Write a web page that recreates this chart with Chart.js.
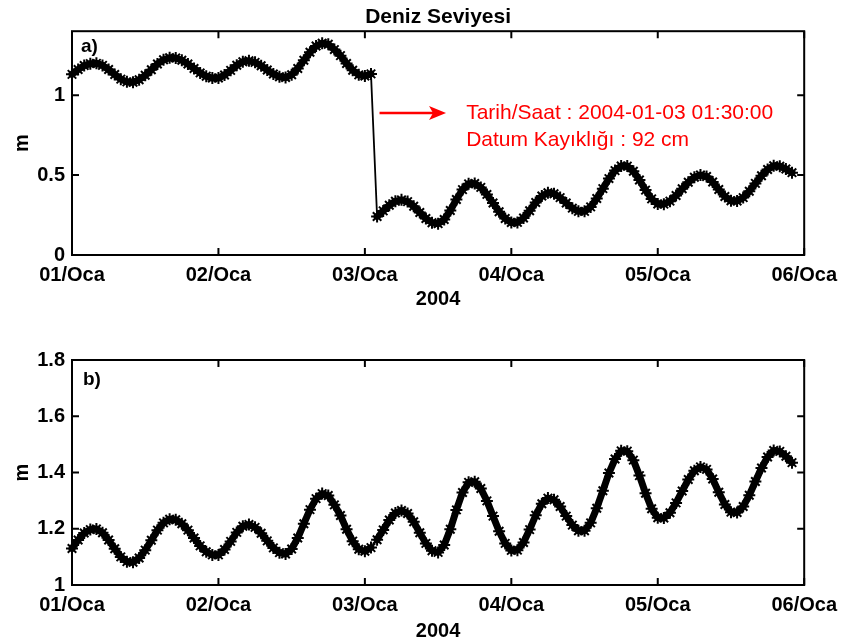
<!DOCTYPE html>
<html>
<head>
<meta charset="utf-8">
<script src="https://cdn.jsdelivr.net/npm/chart.js@4.4.1/dist/chart.umd.min.js"></script>
<style>
  body { margin: 0; background: #fff; }
  #wrap { position: relative; width: 845px; height: 643px; }
  canvas { position: absolute; left: 0; }
</style>
</head>
<body>
<div id="wrap">
  <canvas id="rawChart" width="845" height="320" style="top:0"></canvas>
  <canvas id="fixedChart" width="845" height="323" style="top:320px"></canvas>
</div>
<script>
// x axis: hours since 2004-01-01 00:00
const dayTicks = [0, 24, 48, 72, 96, 120];
const dayLabels = ["01/Oca", "02/Oca", "03/Oca", "04/Oca", "05/Oca", "06/Oca"];
const rawTicks = [0, 0.5, 1];
const fixedTicks = [1, 1.2, 1.4, 1.6, 1.8];

// hourly sea level (m), datum corrected (panel b)
const seaLevel = [
  1.130, 1.160, 1.185, 1.197, 1.199, 1.186, 1.160, 1.129, 1.100, 1.083,
  1.081, 1.096, 1.124, 1.159, 1.195, 1.221, 1.234, 1.232, 1.218, 1.195,
  1.167, 1.139, 1.118, 1.107, 1.107, 1.126, 1.155, 1.187, 1.209, 1.215,
  1.205, 1.184, 1.157, 1.132, 1.115, 1.110, 1.128, 1.167, 1.218, 1.268,
  1.307, 1.325, 1.318, 1.285, 1.247, 1.198, 1.156, 1.127, 1.120, 1.133,
  1.161, 1.196, 1.231, 1.256, 1.265, 1.254, 1.225, 1.186, 1.148, 1.122,
  1.116, 1.142, 1.198, 1.267, 1.329, 1.365, 1.367, 1.343, 1.299, 1.245,
  1.191, 1.148, 1.123, 1.124, 1.151, 1.197, 1.248, 1.289, 1.309, 1.303,
  1.279, 1.245, 1.213, 1.193, 1.193, 1.221, 1.273, 1.335, 1.398, 1.448,
  1.477, 1.476, 1.444, 1.389, 1.326, 1.271, 1.239, 1.238, 1.257, 1.292,
  1.334, 1.375, 1.406, 1.420, 1.411, 1.377, 1.330, 1.286, 1.259, 1.258,
  1.279, 1.319, 1.368, 1.416, 1.455, 1.478, 1.475, 1.458, 1.435
];
const stepHours = 1;
const shiftIndex = 50;   // first sample after the datum jump (03/Oca 01:30)
const datumShift = 0.92; // 92 cm

const fixedPoints = seaLevel.map((v, i) => ({ x: i * stepHours, y: v }));
// raw record (panel a): level drops by the datum shift after the jump
const rawPoints = seaLevel.map((v, i) => ({ x: i * stepHours, y: i >= shiftIndex ? v - datumShift : v }));

const FONT = "'Liberation Sans', Arial, sans-serif";
Chart.defaults.font.family = FONT;
Chart.defaults.font.size = 20;
Chart.defaults.font.weight = "bold";
Chart.defaults.color = "#000";

// box + inward ticks + panel letter
const framePlugin = {
  id: "frame",
  afterDraw(chart, args, opts) {
    const { ctx, chartArea: a, scales: { x, y } } = chart;
    ctx.save();
    ctx.strokeStyle = "#000";
    ctx.lineWidth = 2;
    ctx.strokeRect(a.left, a.top, a.right - a.left, a.bottom - a.top);
    ctx.beginPath();
    x.ticks.forEach((t) => {
      const px = x.getPixelForValue(t.value);
      ctx.moveTo(px, a.bottom); ctx.lineTo(px, a.bottom - 7);
      ctx.moveTo(px, a.top); ctx.lineTo(px, a.top + 7);
    });
    y.ticks.forEach((t) => {
      const py = y.getPixelForValue(t.value);
      ctx.moveTo(a.left, py); ctx.lineTo(a.left + 7, py);
      ctx.moveTo(a.right, py); ctx.lineTo(a.right - 7, py);
    });
    ctx.stroke();
    ctx.fillStyle = "#000";
    ctx.font = "bold 19px " + FONT;
    ctx.textBaseline = "alphabetic";
    ctx.fillText(opts.panel, a.left + opts.dx, a.top + opts.dy);
    ctx.restore();
  },
};

// red arrow + note about the datum shift (panel a)
const arrowFrom = { x: 50.4, y: 0.888 };
const arrowTo = { x: 61.3, y: 0.888 };
const noteAt = { x: 64.6, y: 0.888 };
const noteLines = ["Tarih/Saat : 2004-01-03 01:30:00", "Datum Kayıklığı : 92 cm"];

const notePlugin = {
  id: "note",
  afterDraw(chart) {
    const { ctx, scales: { x, y } } = chart;
    const x0 = x.getPixelForValue(arrowFrom.x);
    const x1 = x.getPixelForValue(arrowTo.x);
    const yy = y.getPixelForValue(arrowFrom.y);
    ctx.save();
    ctx.strokeStyle = "#ff0000";
    ctx.fillStyle = "#ff0000";
    ctx.lineWidth = 2.5;
    ctx.beginPath();
    ctx.moveTo(x0, yy);
    ctx.lineTo(x1 - 12, yy);
    ctx.stroke();
    ctx.beginPath();
    ctx.moveTo(x1, yy);
    ctx.lineTo(x1 - 17, yy - 7);
    ctx.lineTo(x1 - 13, yy);
    ctx.lineTo(x1 - 17, yy + 7);
    ctx.closePath();
    ctx.fill();
    ctx.font = "21px " + FONT;
    ctx.textBaseline = "middle";
    const tx = x.getPixelForValue(noteAt.x);
    const ty = y.getPixelForValue(noteAt.y);
    noteLines.forEach((line, i) => ctx.fillText(line, tx, ty + i * 27));
    ctx.restore();
  },
};

function makeScales(yMin, yMax, yTicks, xHeight, xTitlePad) {
  return {
    x: {
      type: "linear",
      min: 0,
      max: 120,
      grid: { display: false, drawTicks: false },
      border: { display: false },
      afterBuildTicks: (s) => { s.ticks = dayTicks.map((v) => ({ value: v })); },
      afterFit: (s) => { s.height = xHeight; },
      ticks: {
        padding: 8,
        maxRotation: 0,
        autoSkip: false,
        callback: (v) => dayLabels[dayTicks.indexOf(v)],
      },
      title: { display: true, text: "2004", padding: { top: 0, bottom: xTitlePad } },
    },
    y: {
      min: yMin,
      max: yMax,
      grid: { display: false, drawTicks: false },
      border: { display: false },
      afterBuildTicks: (s) => { s.ticks = yTicks.map((v) => ({ value: v })); },
      afterFit: (s) => { s.width = 72; },
      ticks: { padding: 7, callback: (v) => String(v) },
      title: { display: true, text: "m", padding: { top: 10, bottom: 0 } },
    },
  };
}

function levelDataset(points) {
  return {
    data: points,
    borderColor: "#000",
    borderWidth: 7,
    borderJoinStyle: "round",
    borderCapStyle: "round",
    // the datum jump is a thin connector
    segment: { borderWidth: (c) => (c.p0DataIndex === shiftIndex - 1 ? 1.8 : 7) },
    pointStyle: "star",
    pointRadius: 6,
    pointBorderWidth: 2,
    pointBorderColor: "#000",
    pointBackgroundColor: "#000",
    tension: 0,
    clip: 8,
  };
}

new Chart(document.getElementById("rawChart"), {
  type: "line",
  data: { datasets: [levelDataset(rawPoints)] },
  options: {
    responsive: false,
    animation: false,
    layout: { padding: { left: 0, right: 39, top: 0, bottom: 0 } },
    scales: makeScales(0, 1.4, rawTicks, 65, 9),
    plugins: {
      legend: { display: false },
      tooltip: { enabled: false },
      title: {
        display: true,
        text: "Deniz Seviyesi",
        fullSize: false,
        font: { size: 21, weight: "bold" },
        padding: { top: 5, bottom: 1 },
      },
      frame: { panel: "a)", dx: 9, dy: 21 },
    },
  },
  plugins: [framePlugin, notePlugin],
});

new Chart(document.getElementById("fixedChart"), {
  type: "line",
  data: { datasets: [levelDataset(fixedPoints)] },
  options: {
    responsive: false,
    animation: false,
    layout: { padding: { left: 0, right: 39, top: 40, bottom: 0 } },
    scales: makeScales(1, 1.8, fixedTicks, 58, 0),
    plugins: {
      legend: { display: false },
      tooltip: { enabled: false },
      frame: { panel: "b)", dx: 11, dy: 25 },
    },
  },
  plugins: [framePlugin],
});
</script>
</body>
</html>
